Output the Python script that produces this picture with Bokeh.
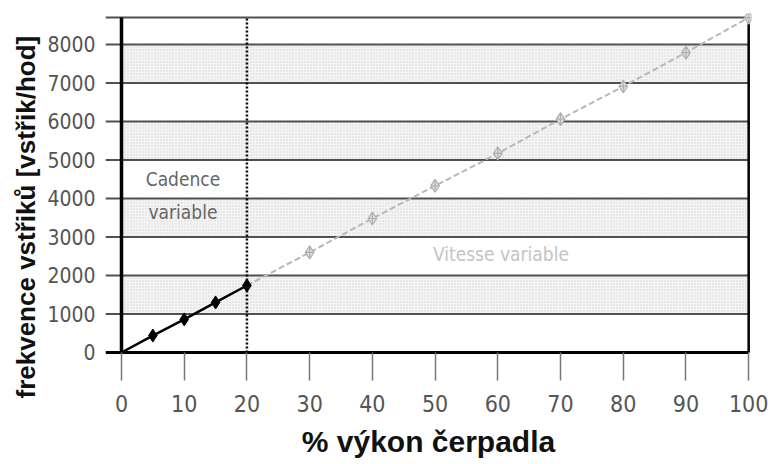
from bokeh.plotting import figure
from bokeh.models import FixedTicker, Range1d, Title
from bokeh.core.properties import value
from bokeh.embed import file_html
from bokeh.resources import INLINE

# Data
x_cadence = [0, 5, 10, 15, 20]
y_cadence = [0, 440, 860, 1300, 1740]
x_vitesse = [20, 30, 40, 50, 60, 70, 80, 90, 100]
y_vitesse = [1740, 2600, 3480, 4330, 5170, 6060, 6910, 7790, 8700]
x_ticks = [0, 10, 20, 30, 40, 50, 60, 70, 80, 90, 100]
y_ticks = [0, 1000, 2000, 3000, 4000, 5000, 6000, 7000, 8000]
band_bottoms = [1000, 3000, 5000, 7000]
band_tops = [2000, 4000, 6000, 8000]
grid_levels = [1000, 2000, 3000, 4000, 5000, 6000, 7000, 8000, 8700]
split_x = 20
x_max = 100
y_top = 8700

narrow = "DejaVu Sans Condensed"

p = figure(width=768, height=464, output_backend="svg", toolbar_location=None,
           x_range=Range1d(-2.55, 100.45), y_range=Range1d(-156, 8805),
           min_border_left=105, min_border_right=17, min_border_top=13, min_border_bottom=106)
p.outline_line_color = None
p.xgrid.visible = False
p.ygrid.visible = False

# shaded bands
p.quad(left=0, right=x_max, bottom=band_bottoms, top=band_tops,
       fill_color="#f4f4f4", line_color=None,
       hatch_pattern="dot", hatch_color="#d6d6d6", hatch_scale=3, hatch_weight=1)

# horizontal grid lines
p.segment(x0=-2.55, x1=x_max, y0=grid_levels, y1=grid_levels, line_color="#505050", line_width=2)
# zero line
p.segment(x0=[-2.55], x1=[x_max], y0=[0], y1=[0], line_color="black", line_width=3)
# left and right vertical lines
p.segment(x0=[0], x1=[0], y0=[0], y1=[y_top], line_color="black", line_width=3.5)
p.segment(x0=[x_max], x1=[x_max], y0=[0], y1=[8540], line_color="black", line_width=2.5)
# dotted split line
p.segment(x0=[split_x], x1=[split_x], y0=[0], y1=[y_top], line_color="black", line_width=2.5, line_dash="2 2")

# grey series
p.line(x_vitesse, y_vitesse, line_color="#b8b8b8", line_width=2, line_dash="6 3")
p.scatter(x_vitesse[1:], y_vitesse[1:], marker="diamond_cross", size=13,
          fill_color="#dedede", line_color="#b0b0b0", line_width=1.2)
# black series
p.line(x_cadence, y_cadence, line_color="black", line_width=2.5)
p.scatter(x_cadence[1:], y_cadence[1:], marker="diamond", size=13,
          fill_color="black", line_color="black")

# annotations
p.text(x=[9.8, 9.8], y=[4500, 3650], text=["Cadence", "variable"],
       text_font=value(narrow), text_font_size="19px", text_color="#666666",
       text_align="center", text_baseline="middle")
p.text(x=[60.5], y=[2550], text=["Vitesse variable"],
       text_font=value(narrow), text_font_size="19px", text_color="#c4c4c4",
       text_align="center", text_baseline="middle")

# axes
xa = p.xaxis[0]
xa.ticker = FixedTicker(ticks=x_ticks)
xa.axis_line_color = None
xa.major_tick_line_color = "#777777"
xa.major_tick_line_width = 1.5
xa.major_tick_in = 6
xa.major_tick_out = 22
xa.minor_tick_line_color = None
xa.major_label_standoff = 14
xa.major_label_text_font = narrow
xa.major_label_text_font_size = "23px"
xa.major_label_text_color = "#555555"
xa.axis_label = "% výkon čerpadla"
xa.axis_label_text_font = "Liberation Sans"
xa.axis_label_text_font_style = "bold"
xa.axis_label_text_font_size = "30px"
xa.axis_label_text_color = "#111111"
xa.axis_label_standoff = 10

ya = p.yaxis[0]
ya.ticker = FixedTicker(ticks=y_ticks)
ya.axis_line_color = None
ya.major_tick_line_color = None
ya.major_tick_in = 0
ya.major_tick_out = 0
ya.minor_tick_line_color = None
ya.major_label_standoff = 10
ya.major_label_text_font = narrow
ya.major_label_text_font_size = "21px"
ya.major_label_text_color = "#555555"

# y-axis title as a side title so it can sit lower than the frame centre
ytitle = Title(text="frekvence vstřiků [vstřik/hod]", align="left", offset=-40,
               text_font="Liberation Sans", text_font_style="bold", text_font_size="26px",
               text_color="#111111", standoff=8)
p.add_layout(ytitle, "left")

open("out.html", "w").write(file_html(p, INLINE))
